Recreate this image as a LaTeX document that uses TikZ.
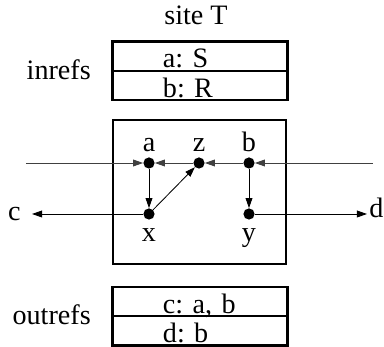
\documentclass[tikz,border=0pt]{standalone}
\usepackage{fontspec}
\setmainfont{Liberation Serif}
\usetikzlibrary{arrows.meta,positioning,calc}
\tikzset{
  sor/.style={draw,line width=0.6pt,text width=3.75cm,inner xsep=0.3cm,inner ysep=0pt,
              minimum height=0.71cm,text height=0.6cm,text depth=0pt,align=left,
              execute at begin node={\hspace*{0.95cm}}},
  keret/.style={line width=1.7pt},
  pont/.style={circle,fill,inner sep=0pt,minimum size=0.28cm},
  cimke/.style={anchor=base,inner sep=0pt},
  nyil/.style={-{Triangle[length=2.5mm,width=1.7mm]},line width=0.6pt},
  szal/.style={nyil,draw=black!75},
}
\begin{document}
\begin{tikzpicture}[x=0.025cm,y=-0.025cm,font=\fontsize{20}{24}\selectfont\frenchspacing]
  \useasboundingbox (0,0) rectangle (384,347);
  % fejlec
  \node[cimke] (cim) at (196,25) {site T};
  % inrefs tabla
  \node[sor] (in1) at (200,56) {a: S};
  \node[sor,below=0pt of in1] (in2) {b: R};
  \draw[keret] (in1.north west) rectangle (in2.south east);
  \node[anchor=east,inner sep=0pt] (inl) at (91,70) {inrefs};
  % site doboz
  \draw[keret] (113,120) rectangle (286,264);
  \node[pont] (a) at (149,163) {};
  \node[pont] (z) at (199,163) {};
  \node[pont] (b) at (249,163) {};
  \node[pont] (x) at (149,214) {};
  \node[pont] (y) at (249,214) {};
  \node[cimke] at (149,152) {a};
  \node[cimke] at (199,152) {z};
  \node[cimke] at (249,152) {b};
  \node[cimke] at (149,242) {x};
  \node[cimke] at (249,242) {y};
  \coordinate (bal) at (26,163);
  \coordinate (jobb) at (373,163);
  \coordinate (cv) at (32,214);
  \coordinate (dv) at (367,214);
  \node[anchor=east,inner sep=0pt] (c) at (21,214) {c};
  \node[anchor=base west,inner sep=0pt] (d) at (369,218) {d};
  \draw[szal] (bal) -- (a);
  \draw[szal] (z) -- (a);
  \draw[szal] (b) -- (z);
  \draw[szal] (jobb) -- (b);
  \draw[nyil] (a) -- (x);
  \draw[nyil] (x) -- (z);
  \draw[nyil] (b) -- (y);
  \draw[nyil] (x) -- (cv);
  \draw[nyil] (y) -- (dv);
  % outrefs tabla
  \node[sor] (out1) at (200,301.5) {c: a, b};
  \node[sor,below=0pt of out1] (out2) {d: b};
  \draw[keret] (out1.north west) rectangle (out2.south east);
  \node[anchor=east,inner sep=0pt] (outl) at (91,315) {outrefs};
\end{tikzpicture}
\end{document}
